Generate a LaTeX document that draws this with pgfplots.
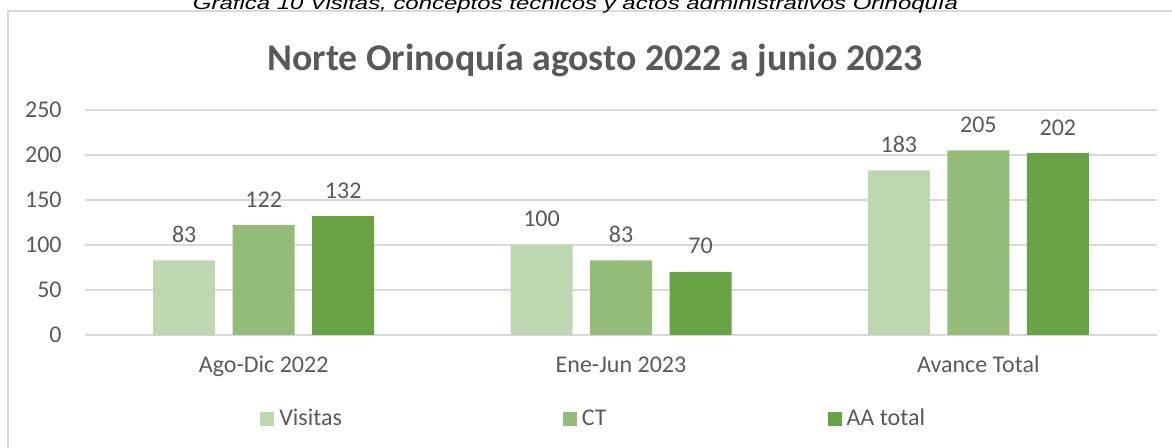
\documentclass[border=0pt]{standalone}
\usepackage{pgfplots}
\pgfplotsset{compat=1.18}
\usepackage{fontspec}
\setmainfont{Carlito}
\newfontfamily\capfont{Liberation Sans}
\definecolor{txt}{HTML}{595959}
\definecolor{gridc}{HTML}{D9D9D9}
\definecolor{cvis}{HTML}{BDD7B0}
\definecolor{cct}{HTML}{92BC78}
\definecolor{caa}{HTML}{67A244}

\begin{document}
\begin{tikzpicture}[x=0.5pt,y=0.5pt]
\path[use as bounding box] (0,0) rectangle (1172,448);
\clip (0,0) rectangle (1172,448);
% chart frame (runs past right and bottom edge)
\draw[gridc, line width=1pt] (8,-20) -- (8,437) -- (1200,437);
% cut-off caption above the chart
\node[anchor=base, text=black, inner sep=0pt] at (575.5,438)
  {\resizebox{382.5pt}{\height}{\capfont\itshape\fontsize{9}{11}\selectfont Gráfica 10 Visitas, conceptos técnicos y actos administrativos Orinoquía}};
\node[anchor=base, text=txt, inner sep=0pt, font=\bfseries\fontsize{18.9}{22}\selectfont]
  at (595,377) {Norte Orinoquía agosto 2022 a junio 2023};

\begin{axis}[
  at={(42.5pt,56.5pt)}, anchor=south west,
  scale only axis, width=536pt, height=112.5pt,
  xmin=-0.5, xmax=2.5, ymin=0, ymax=250,
  ybar=8.75pt, bar width=31pt,
  axis line style={draw=none}, major tick length=0pt,
  /pgf/number format/assume math mode=true,
  ytick={0,50,...,250}, ymajorgrids,
  grid style={gridc, line width=0.75pt},
  xtick={0,1,2},
  xticklabels={Ago-Dic 2022, Ene-Jun 2023, Avance Total},
  ticklabel style={text=txt, font=\fontsize{12}{14}\selectfont, inner sep=0pt},
  yticklabel style={anchor=east, xshift=-11.5pt},
  xticklabel style={anchor=base, yshift=-19pt},
  nodes near coords,
  every node near coord/.append style={text=txt, font=\fontsize{12}{14}\selectfont,
    anchor=base, yshift=9pt, inner sep=0pt},
  legend columns=3,
  legend image code/.code={\fill[#1] (0pt,-3.5pt) rectangle (7pt,3.5pt);},
  legend style={at={(0.1632,-0.3733)}, anchor=west, draw=none, fill=none,
    inner sep=0pt, text=txt, font=\fontsize{12}{14}\selectfont,
    nodes={inner sep=2.5pt},
    /tikz/every even column/.append style={column sep=108pt}},
]
\addplot[fill=cvis, draw=none] coordinates {(0,83) (1,100) (2,183)};
\addplot[fill=cct, draw=none] coordinates {(0,122) (1,83) (2,205)};
\addplot[fill=caa, draw=none] coordinates {(0,132) (1,70) (2,202)};
\legend{Visitas, CT, AA total}
\end{axis}
\end{tikzpicture}
\end{document}
